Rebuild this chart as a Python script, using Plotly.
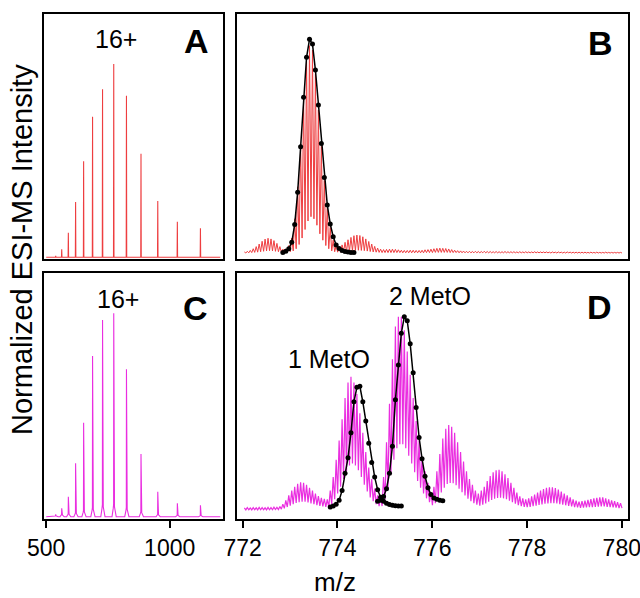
import plotly.graph_objects as go

# ---------------------------------------------------------------
# Survey spectra (panels A and C): charge states 23+ ... 11+
# ---------------------------------------------------------------
charge_mz = [538.4, 562.8, 589.6, 619.0, 651.5, 687.7, 728.1,
             773.5, 825.0, 883.9, 951.8, 1031.1, 1124.6]
control_heights = [0.007, 0.041, 0.127, 0.286, 0.497, 0.727, 0.869,
                   1.000, 0.836, 0.536, 0.291, 0.184, 0.150]
oxidized_heights = [0.012, 0.041, 0.098, 0.263, 0.462, 0.790, 0.967,
                    1.000, 0.725, 0.308, 0.123, 0.066, 0.056]
# broad oxidized shoulders under each charge state
oxidized_feet = [0.005, 0.010, 0.015, 0.020, 0.030, 0.045, 0.060,
                 0.060, 0.045, 0.025, 0.012, 0.008, 0.006]
survey_start, survey_end = 500.0, 1205.0

# ---------------------------------------------------------------
# 16+ isotope region (panels B and D); isotope spacing 1/16 m/z
# ---------------------------------------------------------------
iso_start = 772.035
iso_step = 1.0 / 16.0

# control spectrum, isotope apex heights
control_tops = [
    0.005, 0.008, 0.012, 0.020, 0.030, 0.042, 0.055, 0.065, 0.069, 0.066,
    0.058, 0.045, 0.030, 0.018, 0.020, 0.035, 0.070, 0.160, 0.310, 0.510,
    0.730, 0.900, 0.970, 0.950, 0.840, 0.670, 0.500, 0.340, 0.210, 0.120,
    0.060, 0.035, 0.030, 0.038, 0.050, 0.062, 0.073, 0.081, 0.084, 0.082,
    0.076, 0.066, 0.054, 0.042, 0.031, 0.023, 0.018, 0.016, 0.017, 0.018,
    0.018, 0.017, 0.015, 0.013, 0.012, 0.012, 0.013, 0.013, 0.012, 0.012,
    0.013, 0.015, 0.016, 0.018, 0.020, 0.022, 0.023, 0.022, 0.021, 0.019,
    0.016, 0.013, 0.011, 0.010, 0.009, 0.008, 0.008, 0.007, 0.008, 0.007,
    0.007, 0.008, 0.007, 0.007, 0.006, 0.007, 0.006, 0.006, 0.007, 0.006,
    0.006, 0.006, 0.005, 0.006, 0.005, 0.006, 0.005, 0.005, 0.006, 0.005,
    0.005, 0.005, 0.005, 0.004, 0.005, 0.004, 0.005, 0.004, 0.004, 0.005,
    0.004, 0.004, 0.004, 0.004, 0.004, 0.004, 0.003, 0.004, 0.003, 0.004,
    0.003, 0.003, 0.004, 0.003, 0.003, 0.003, 0.003, 0.003,
]
# control spectrum, minima between neighbouring isotopes
control_troughs = [
    0.000, 0.001, 0.002, 0.003, 0.004, 0.006, 0.008, 0.010, 0.011, 0.010,
    0.008, 0.006, 0.004, 0.003, 0.004, 0.006, 0.010, 0.020, 0.040, 0.070,
    0.110, 0.150, 0.170, 0.160, 0.130, 0.090, 0.060, 0.035, 0.020, 0.010,
    0.006, 0.004, 0.004, 0.005, 0.007, 0.009, 0.011, 0.012, 0.013, 0.012,
    0.011, 0.009, 0.007, 0.005, 0.004, 0.003, 0.002, 0.002, 0.002, 0.002,
    0.002, 0.002, 0.002, 0.001, 0.001, 0.001, 0.001, 0.001, 0.001, 0.001,
    0.001, 0.002, 0.002, 0.002, 0.003, 0.003, 0.003, 0.003, 0.003, 0.002,
    0.002, 0.002, 0.001, 0.001, 0.001, 0.001, 0.001, 0.001, 0.001, 0.001,
    0.001, 0.001, 0.001, 0.001, 0.001, 0.001, 0.001, 0.001, 0.001, 0.001,
    0.001, 0.001, 0.001, 0.001, 0.001, 0.001, 0.001, 0.001, 0.001, 0.001,
    0.001, 0.001, 0.001, 0.000, 0.001, 0.000, 0.001, 0.000, 0.000, 0.001,
    0.000, 0.000, 0.000, 0.000, 0.000, 0.000, 0.000, 0.000, 0.000, 0.000,
    0.000, 0.000, 0.000, 0.000, 0.000, 0.000, 0.000, 0.000,
]

# oxidized spectrum, isotope apex heights
oxidized_tops = [
    0.010, 0.012, 0.010, 0.012, 0.011, 0.013, 0.012, 0.011, 0.013, 0.012,
    0.014, 0.013, 0.018, 0.030, 0.050, 0.075, 0.100, 0.120, 0.135, 0.143,
    0.140, 0.130, 0.115, 0.100, 0.085, 0.072, 0.063, 0.057, 0.055, 0.100,
    0.170, 0.260, 0.360, 0.470, 0.580, 0.660, 0.690, 0.660, 0.600, 0.500,
    0.400, 0.300, 0.220, 0.160, 0.110, 0.075, 0.070, 0.170, 0.350, 0.550,
    0.780, 0.950, 1.000, 1.000, 0.930, 0.820, 0.700, 0.580, 0.460, 0.360,
    0.270, 0.200, 0.140, 0.090, 0.120, 0.200, 0.290, 0.370, 0.420, 0.440,
    0.430, 0.400, 0.350, 0.300, 0.250, 0.200, 0.160, 0.130, 0.100, 0.085,
    0.100, 0.120, 0.150, 0.175, 0.195, 0.205, 0.208, 0.200, 0.185, 0.165,
    0.140, 0.115, 0.090, 0.070, 0.060, 0.055, 0.060, 0.070, 0.080, 0.090,
    0.100, 0.108, 0.114, 0.117, 0.117, 0.113, 0.105, 0.095, 0.085, 0.075,
    0.065, 0.055, 0.048, 0.043, 0.045, 0.048, 0.052, 0.056, 0.060, 0.063,
    0.065, 0.065, 0.060, 0.055, 0.050, 0.045, 0.040, 0.035,
]
# oxidized spectrum, minima between neighbouring isotopes
oxidized_troughs = [
    0.000, 0.001, 0.000, 0.001, 0.000, 0.001, 0.001, 0.000, 0.001, 0.001,
    0.002, 0.002, 0.004, 0.008, 0.015, 0.022, 0.030, 0.036, 0.040, 0.043,
    0.042, 0.039, 0.034, 0.030, 0.025, 0.021, 0.018, 0.016, 0.015, 0.030,
    0.055, 0.085, 0.120, 0.160, 0.200, 0.230, 0.240, 0.230, 0.205, 0.170,
    0.130, 0.095, 0.065, 0.045, 0.030, 0.020, 0.020, 0.055, 0.115, 0.185,
    0.260, 0.320, 0.340, 0.340, 0.320, 0.280, 0.240, 0.195, 0.150, 0.115,
    0.085, 0.060, 0.040, 0.025, 0.035, 0.060, 0.090, 0.115, 0.135, 0.140,
    0.138, 0.128, 0.110, 0.092, 0.075, 0.058, 0.045, 0.035, 0.027, 0.022,
    0.027, 0.034, 0.043, 0.052, 0.058, 0.062, 0.063, 0.060, 0.055, 0.048,
    0.040, 0.032, 0.025, 0.019, 0.016, 0.014, 0.016, 0.019, 0.022, 0.026,
    0.029, 0.032, 0.034, 0.035, 0.035, 0.033, 0.030, 0.027, 0.024, 0.021,
    0.018, 0.015, 0.013, 0.011, 0.012, 0.013, 0.014, 0.015, 0.016, 0.017,
    0.018, 0.018, 0.016, 0.015, 0.013, 0.012, 0.010, 0.009,
]

# theoretical isotope distributions (first isotope index, heights)
theory_native_start = 13
theory_native = [0.003, 0.008, 0.020, 0.050, 0.134, 0.284, 0.497, 0.729,
                 0.916, 1.000, 0.978, 0.856, 0.693, 0.513, 0.354, 0.225,
                 0.136, 0.076, 0.037, 0.021, 0.012, 0.007, 0.005, 0.003,
                 0.002]
theory_1meto_start = 29
theory_1meto = [0.015, 0.020, 0.030, 0.050, 0.100, 0.190, 0.270, 0.400,
                0.560, 0.635, 0.640, 0.560, 0.460, 0.345, 0.245, 0.170,
                0.105, 0.065, 0.045, 0.035, 0.028, 0.024, 0.022, 0.020,
                0.020]
theory_2meto_start = 45
theory_2meto = [0.045, 0.050, 0.070, 0.110, 0.190, 0.330, 0.570, 0.750,
                0.915, 1.000, 0.980, 0.860, 0.710, 0.530, 0.375, 0.265,
                0.175, 0.115, 0.080, 0.062, 0.055, 0.050, 0.048]

zoom_ticks = [772, 774, 776, 778, 780]
survey_ticks = [500, 1000]

RED = "#ee3e40"
MAGENTA = "#ea2ee0"
FONT = "Liberation Sans, Arial, Helvetica, sans-serif"
W, H = 640, 598


def px(x):
    return x / W


def py(y):
    return 1 - y / H


def stick_trace(mz, heights, feet=None):
    xs, ys = [survey_start], [0.0]
    for i, (m, h) in enumerate(zip(mz, heights)):
        if feet is None:
            xs += [m - 1.0, m, m + 1.0]
            ys += [0.0, h, 0.0]
        else:
            f = feet[i]
            xs += [m - 7.0, m - 2.0, m - 0.6, m, m + 0.6, m + 3.0, m + 10.0]
            ys += [0.0, f * 0.7, f, h, f, f * 0.8, 0.0]
    xs.append(survey_end)
    ys.append(0.0)
    return xs, ys


def isotope_trace(tops, troughs):
    xs, ys = [], []
    for k, (t, u) in enumerate(zip(tops, troughs)):
        m = iso_start + k * iso_step
        xs += [m, m + iso_step / 2]
        ys += [t, u]
    return xs, ys


def theory_trace(start, values):
    xs = [iso_start + (start + i) * iso_step for i in range(len(values))]
    return xs, values


fig = go.Figure()

# panel A / C: survey spectra
xa, ya = stick_trace(charge_mz, control_heights)
fig.add_trace(go.Scatter(x=xa, y=ya, mode="lines", xaxis="x", yaxis="y",
                         line=dict(color=RED, width=1.1)))
xc, yc = stick_trace(charge_mz, oxidized_heights, oxidized_feet)
fig.add_trace(go.Scatter(x=xc, y=yc, mode="lines", xaxis="x3", yaxis="y3",
                         line=dict(color=MAGENTA, width=1.1)))

# panel B: control 16+ with theory
xb, yb = isotope_trace(control_tops, control_troughs)
fig.add_trace(go.Scatter(x=xb, y=yb, mode="lines", xaxis="x2", yaxis="y2",
                         line=dict(color=RED, width=1)))
tx, ty = theory_trace(theory_native_start, theory_native)
fig.add_trace(go.Scatter(x=tx, y=ty, mode="lines+markers", xaxis="x2",
                         yaxis="y2", line=dict(color="black", width=1.5),
                         marker=dict(color="black", size=5)))

# panel D: oxidized 16+ with theory for 1 and 2 MetO
xd, yd = isotope_trace(oxidized_tops, oxidized_troughs)
fig.add_trace(go.Scatter(x=xd, y=yd, mode="lines", xaxis="x4", yaxis="y4",
                         line=dict(color=MAGENTA, width=1.2)))
for start, vals in [(theory_1meto_start, theory_1meto),
                    (theory_2meto_start, theory_2meto)]:
    tx, ty = theory_trace(start, vals)
    fig.add_trace(go.Scatter(x=tx, y=ty, mode="lines+markers", xaxis="x4",
                             yaxis="y4", line=dict(color="black", width=1.5),
                             marker=dict(color="black", size=5)))

left_dom = [px(43.5), px(223)]
right_dom = [px(237), px(627.5)]
top_dom = [py(259), py(13.5)]
bot_dom = [py(519), py(273)]

frame = dict(showline=True, linecolor="black", linewidth=2, mirror=True,
             showgrid=False, zeroline=False, automargin=False)
no_ticks = dict(ticks="", showticklabels=False)
bottom_ticks = dict(ticks="outside", ticklen=7, tickwidth=2,
                    tickcolor="black", showticklabels=True,
                    ticklabeloverflow="allow",
                    tickfont=dict(family=FONT, size=23, color="black"))

fig.update_layout(
    template="none",
    width=W, height=H, margin=dict(l=0, r=0, t=0, b=0, pad=0),
    paper_bgcolor="white", plot_bgcolor="white", showlegend=False,
    font=dict(family=FONT, color="black"),
    xaxis=dict(domain=left_dom, anchor="y", range=[489, 1216],
               **frame, **no_ticks),
    yaxis=dict(domain=top_dom, anchor="x", range=[-0.0088, 1.261],
               **frame, **no_ticks),
    xaxis2=dict(domain=right_dom, anchor="y2", range=[771.88, 780.12],
                **frame, **no_ticks),
    yaxis2=dict(domain=top_dom, anchor="x2", range=[-0.028, 1.121],
                **frame, **no_ticks),
    xaxis3=dict(domain=left_dom, anchor="y3", range=[489, 1216],
                tickvals=survey_ticks, ticktext=[str(t) for t in survey_ticks],
                **frame, **bottom_ticks),
    yaxis3=dict(domain=bot_dom, anchor="x3", range=[-0.0113, 1.198],
                **frame, **no_ticks),
    xaxis4=dict(domain=right_dom, anchor="y4", range=[771.88, 780.12],
                tickvals=zoom_ticks, ticktext=[str(t) for t in zoom_ticks],
                **frame, **bottom_ticks),
    yaxis4=dict(domain=bot_dom, anchor="x4", range=[-0.047, 1.227],
                **frame, **no_ticks),
)


def label(text, x, y, size, bold=False, angle=0):
    fig.add_annotation(
        text=f"<b>{text}</b>" if bold else text,
        x=px(x), y=py(y), xref="paper", yref="paper",
        xanchor="center", yanchor="middle", showarrow=False,
        textangle=angle,
        font=dict(family=FONT, size=size, color="black"))


label("A", 196, 41, 34, bold=True)
label("B", 600, 43, 34, bold=True)
label("C", 195, 308, 34, bold=True)
label("D", 599, 307, 34, bold=True)
label("16+", 116, 39, 25)
label("16+", 118, 299, 25)
label("1 MetO", 329, 359, 25)
label("2 MetO", 430, 296, 25)
label("m/z", 335, 582, 26)
label("Normalized ESI-MS Intensity", 22, 250, 29, angle=-90)

fig.write_html("out.html")
